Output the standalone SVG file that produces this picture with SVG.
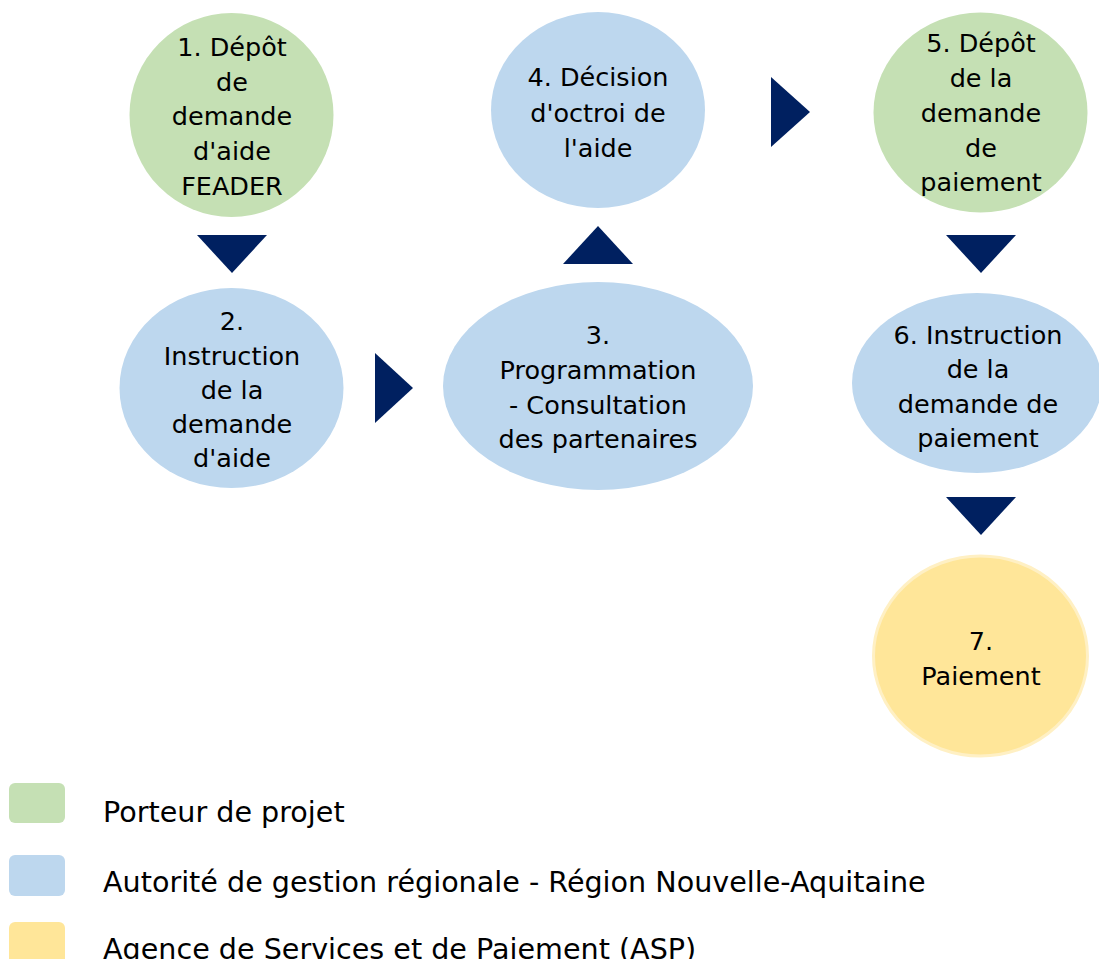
<svg xmlns="http://www.w3.org/2000/svg" width="1099" height="959" viewBox="0 0 1099 959">
<style>
.green{fill:#C5E0B4}
.blue{fill:#BDD7EE}
.yellow{fill:#FFE699}
.arrow{fill:#002060}
.t{font-family:"DejaVu Sans","Liberation Sans",sans-serif;font-size:25.5px;fill:#000;text-anchor:middle}
.lg{font-family:"DejaVu Sans","Liberation Sans",sans-serif;font-size:28.6px;fill:#000}
</style>
<rect width="1099" height="959" fill="#fff"/>
<g id="connectors">
<polygon class="arrow" points="197,235 267,235 232,273"/>
<polygon class="arrow" points="375,353 375,423 413,388"/>
<polygon class="arrow" points="563,264 633,264 598,226"/>
<polygon class="arrow" points="771,77 771,147 810,112"/>
<polygon class="arrow" points="946,235 1016,235 981,273"/>
<polygon class="arrow" points="946,497 1016,497 981,535"/>
</g>
<g id="node1">
<ellipse class="green" cx="231.5" cy="115" rx="102" ry="102"/>
<text class="t" x="232" y="56">1. Dépôt</text>
<text class="t" x="232" y="91">de</text>
<text class="t" x="232" y="125">demande</text>
<text class="t" x="232" y="160">d'aide</text>
<text class="t" x="232" y="195">FEADER</text>
</g>
<g id="node2">
<ellipse class="blue" cx="231.5" cy="388" rx="112" ry="100"/>
<text class="t" x="232" y="330">2.</text>
<text class="t" x="232" y="365">Instruction</text>
<text class="t" x="232" y="399">de la</text>
<text class="t" x="232" y="433">demande</text>
<text class="t" x="232" y="467">d'aide</text>
</g>
<g id="node3">
<ellipse class="blue" cx="598" cy="386" rx="155" ry="104"/>
<text class="t" x="598" y="344">3.</text>
<text class="t" x="598" y="379">Programmation</text>
<text class="t" x="598" y="414">- Consultation</text>
<text class="t" x="598" y="448">des partenaires</text>
</g>
<g id="node4">
<ellipse class="blue" cx="598" cy="110" rx="107" ry="98"/>
<text class="t" x="598" y="86">4. Décision</text>
<text class="t" x="598" y="122">d'octroi de</text>
<text class="t" x="598" y="157">l'aide</text>
</g>
<g id="node5">
<ellipse class="green" cx="980.5" cy="112.5" rx="107" ry="100"/>
<text class="t" x="981" y="52">5. Dépôt</text>
<text class="t" x="981" y="87">de la</text>
<text class="t" x="981" y="122">demande</text>
<text class="t" x="981" y="157">de</text>
<text class="t" x="981" y="191">paiement</text>
</g>
<g id="node6">
<ellipse class="blue" cx="977" cy="383" rx="125" ry="90"/>
<text class="t" x="978" y="344">6. Instruction</text>
<text class="t" x="978" y="378">de la</text>
<text class="t" x="978" y="413">demande de</text>
<text class="t" x="978" y="447">paiement</text>
</g>
<g id="node7">
<ellipse class="yellow" cx="980.5" cy="656" rx="107" ry="100" stroke="#FFF0C4" stroke-width="3"/>
<text class="t" x="981" y="650">7.</text>
<text class="t" x="981" y="685">Paiement</text>
</g>
<g id="legend">
<rect class="green" x="9" y="783" width="56" height="40" rx="6"/>
<text class="lg" x="103" y="822">Porteur de projet</text>
<rect class="blue" x="9" y="855" width="56" height="41" rx="6"/>
<text class="lg" x="103" y="892">Autorité de gestion régionale - Région Nouvelle-Aquitaine</text>
<rect class="yellow" x="9" y="922" width="56" height="42" rx="6"/>
<text class="lg" x="103" y="959">Agence de Services et de Paiement (ASP)</text>
</g>
</svg>
